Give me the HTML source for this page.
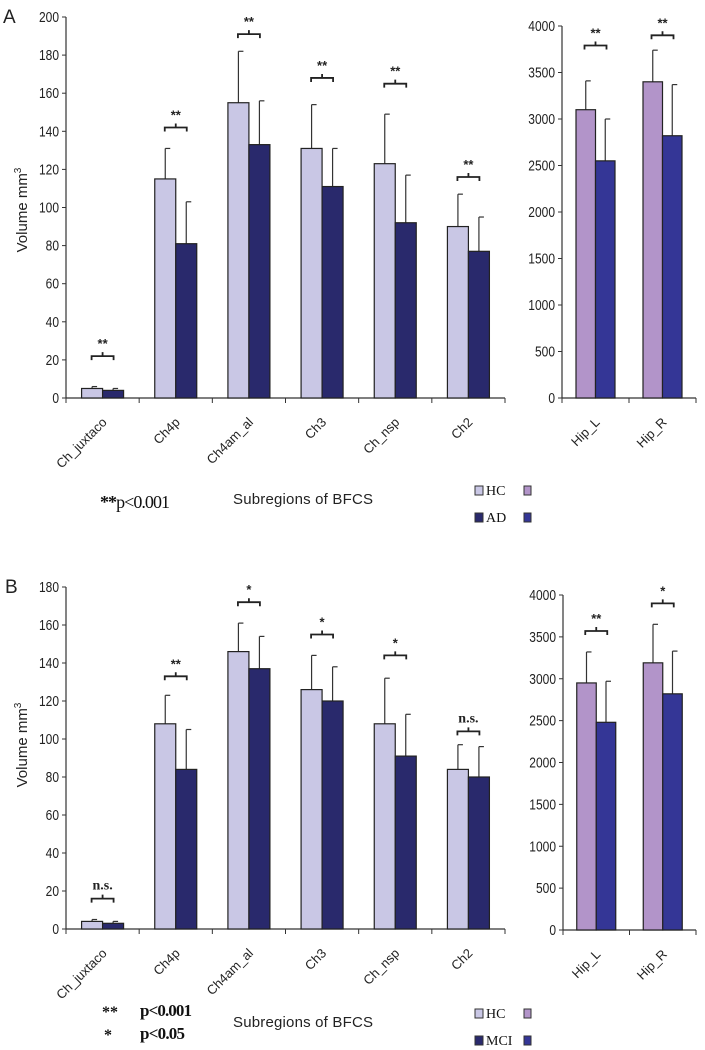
<!DOCTYPE html>
<html><head><meta charset="utf-8"><style>
body{margin:0;background:#fff}
svg{display:block}
text{font-family:"Liberation Sans",sans-serif}
.serif{font-family:"Liberation Serif",serif}
</style></head><body>
<svg id="c" width="705" height="1050" xmlns="http://www.w3.org/2000/svg"></svg>
<script>
const categories = ["Ch_juxtaco","Ch4p","Ch4am_al","Ch3","Ch_nsp","Ch2"];
const hipCategories = ["Hip_L","Hip_R"];
const yTicksLeftA = [0,20,40,60,80,100,120,140,160,180,200];
const yTicksLeftB = [0,20,40,60,80,100,120,140,160,180];
const yTicksHip = [0,500,1000,1500,2000,2500,3000,3500,4000];
// Panel A
const hcA = [5,115,155,131,123,90];
const hcAErr = [6,131,182,154,149,107];
const adA = [4,81,133,111,92,77];
const adAErr = [5,103,156,131,117,95];
const sigA = ["**","**","**","**","**","**"];
const brkA = [22,142,191,168,165,116];
const hipHcA = [3100,3400];
const hipHcAErr = [3410,3740];
const hipAdA = [2550,2820];
const hipAdAErr = [3000,3370];
const hipSigA = ["**","**"];
const hipBrkA = [3790,3900];
// Panel B
const hcB = [4,108,146,126,108,84];
const hcBErr = [5,123,161,144,132,97];
const mciB = [3,84,137,120,91,80];
const mciBErr = [4,105,154,138,113,96];
const sigB = ["n.s.","**","*","*","*","n.s."];
const brkB = [16,133,172,155,144,104];
const hipHcB = [2950,3190];
const hipHcBErr = [3320,3650];
const hipMciB = [2480,2820];
const hipMciBErr = [2970,3330];
const hipSigB = ["**","*"];
const hipBrkB = [3570,3900];

const svg = document.getElementById('c');
const NS = "http://www.w3.org/2000/svg";
function mk(tag, attrs, parent){
  const e = document.createElementNS(NS, tag);
  for (const k in attrs) e.setAttribute(k, attrs[k]);
  (parent||svg).appendChild(e);
  return e;
}
function panel(o){
  const g = mk('g', {});
  
  
  const y = v => o.y0 - v / o.max * (o.y0 - o.yTop);
  const n = o.cats.length;
  const cw = (o.x1 - o.x0) / n;
  const ax = mk('line', {x1:o.x0, y1:o.y0, x2:o.x0, y2:o.yTop, stroke:'#333', 'stroke-width':1.2}, g);
  
  
  const xa = mk('line', {x1:o.x0, y1:o.y0, x2:o.x1, y2:o.y0, stroke:'#333', 'stroke-width':1.2}, g);
  
  
  o.ticks.forEach(t => {
    mk('line', {x1:o.x0-4, y1:y(t), x2:o.x0, y2:y(t), stroke:'#333'}, g);
    const tx = o.x0-7;
    const tl = mk('text', {x:0, y:0, 'text-anchor':'end', 'font-size':15, fill:'#222', transform:`translate(${tx},${y(t)+5}) scale(0.8,1)`}, g);
    
    
    tl.textContent = t;
  });
  for (let i=0;i<=n;i++){
    mk('line', {x1:o.x0+i*cw, y1:o.y0, x2:o.x0+i*cw, y2:o.y0+5, stroke:'#333'}, g);
  }
  o.cats.forEach((c,i) => {
    const cx = o.x0 + (i+0.5)*cw;
    const bw = o.bw;
    [[o.s1,o.e1,o.c1,cx-bw,'hc'],[o.s2,o.e2,o.c2,cx,o.s2name]].forEach(([s,e,col,bx,nm]) => {
      const top = y(s[i]);
      const el = mk('line', {x1:bx+bw/2, y1:top, x2:bx+bw/2, y2:y(e[i]), stroke:'#333', 'stroke-width':1.2}, g);
      
      
      mk('line', {x1:bx+bw/2, y1:y(e[i]), x2:bx+bw/2+5, y2:y(e[i]), stroke:'#333', 'stroke-width':1.2}, g);
      const r = mk('rect', {x:bx, y:top, width:bw, height:o.y0-top, fill:col, stroke:'#222', 'stroke-width':1.2}, g);
      
      
    });
    const by = y(o.brk[i]);
    const bx1 = cx - 11, bx2 = cx + 11;
    const p = mk('path', {d:`M${bx1},${by+4} V${by} H${bx2} V${by+4} M${cx},${by} V${by-4}`, fill:'none', stroke:'#222', 'stroke-width':1.8}, g);
    
    
    const isNs = o.sig[i] === 'n.s.';
    const st = mk('text', {x:cx, y:by-(isNs?9:8), 'text-anchor':'middle', 'font-size':isNs?14:13, 'font-weight':'bold', fill:'#222', class:isNs?'serif':''}, g);
    
    
    st.textContent = o.sig[i];
    const lx = cx + 5, ly = o.y0 + 25;
    const cl = mk('text', {x:lx, y:ly, 'text-anchor':'end', 'font-size':13, fill:'#222', transform:`rotate(-45 ${lx} ${ly})`}, g);
    
    
    cl.textContent = c;
  });
}
panel({name:'panel-a-bfcs', x0:66, x1:505, y0:398, yTop:17, max:200, ticks:yTicksLeftA, cats:categories, bw:21,
  s1:hcA, e1:hcAErr, s2:adA, e2:adAErr, c1:'#c9c7e5', c2:'#29296c', s2name:'ad', sig:sigA, brk:brkA});
panel({name:'panel-a-hippocampus', x0:562, x1:696, y0:398, yTop:26, max:4000, ticks:yTicksHip, cats:hipCategories, bw:19.5,
  s1:hipHcA, e1:hipHcAErr, s2:hipAdA, e2:hipAdAErr, c1:'#b294c9', c2:'#343696', s2name:'ad', sig:hipSigA, brk:hipBrkA});
panel({name:'panel-b-bfcs', x0:66, x1:505, y0:929, yTop:587, max:180, ticks:yTicksLeftB, cats:categories, bw:21,
  s1:hcB, e1:hcBErr, s2:mciB, e2:mciBErr, c1:'#c9c7e5', c2:'#29296c', s2name:'mci', sig:sigB, brk:brkB});
panel({name:'panel-b-hippocampus', x0:563, x1:696, y0:930, yTop:595, max:4000, ticks:yTicksHip, cats:hipCategories, bw:19.5,
  s1:hipHcB, e1:hipHcBErr, s2:hipMciB, e2:hipMciBErr, c1:'#b294c9', c2:'#343696', s2name:'mci', sig:hipSigB, brk:hipBrkB});
</script>
<svg width="705" height="1050" style="position:absolute;left:0;top:0" xmlns="http://www.w3.org/2000/svg">
  <text x="3" y="23" font-size="19" fill="#222">A</text>
  <text x="5" y="593" font-size="19" fill="#222">B</text>
  <text transform="translate(27 210) rotate(-90)" text-anchor="middle" font-size="15" fill="#222">Volume mm<tspan dy="-6" font-size="10">3</tspan></text>
  <text transform="translate(27 745) rotate(-90)" text-anchor="middle" font-size="15" fill="#222">Volume mm<tspan dy="-6" font-size="10">3</tspan></text>
  <text x="100" y="508" class="serif" font-size="18" fill="#111" textLength="70"><tspan font-weight="bold">**</tspan>p&lt;0.001</text>
  <text x="233" y="504" font-size="15" fill="#222" textLength="140">Subregions of BFCS</text>
  <rect x="475" y="486" width="8" height="9" fill="#c9c7e5" stroke="#333"/>
  <text x="486" y="495" class="serif" font-size="14" fill="#111">HC</text>
  <rect x="524" y="486" width="7" height="9" fill="#b294c9" stroke="#333"/>
  <rect x="475" y="513" width="8" height="9" fill="#29296c" stroke="#333"/>
  <text x="486" y="522" class="serif" font-size="14" fill="#111">AD</text>
  <rect x="524" y="513" width="7" height="9" fill="#343696" stroke="#333"/>
  <text x="102" y="1017" class="serif" font-size="16" font-weight="bold" fill="#111">**</text>
  <text x="140" y="1016" class="serif" font-size="17" font-weight="bold" fill="#111" textLength="52">p&lt;0.001</text>
  <text x="104" y="1040" class="serif" font-size="16" font-weight="bold" fill="#111">*</text>
  <text x="140" y="1039" class="serif" font-size="17" font-weight="bold" fill="#111" textLength="45">p&lt;0.05</text>
  <text x="233" y="1027" font-size="15" fill="#222" textLength="140">Subregions of BFCS</text>
  <rect x="475" y="1009" width="8" height="9" fill="#c9c7e5" stroke="#333"/>
  <text x="486" y="1018" class="serif" font-size="14" fill="#111">HC</text>
  <rect x="524" y="1009" width="7" height="9" fill="#b294c9" stroke="#333"/>
  <rect x="475" y="1036" width="8" height="9" fill="#29296c" stroke="#333"/>
  <text x="486" y="1045" class="serif" font-size="14" fill="#111">MCI</text>
  <rect x="524" y="1036" width="7" height="9" fill="#343696" stroke="#333"/>
</svg>
</body></html>
